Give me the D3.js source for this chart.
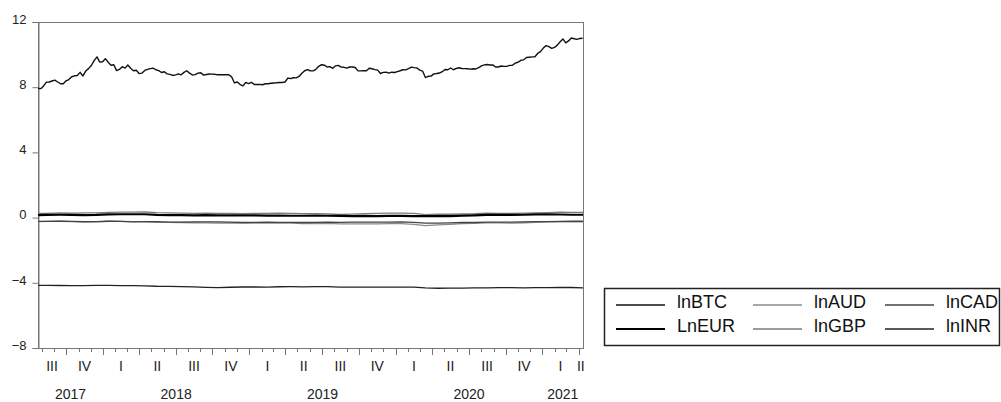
<!DOCTYPE html>
<html>
<head>
<meta charset="utf-8">
<script src="https://cdn.jsdelivr.net/npm/d3@7"></script>
<style>
  html, body { margin: 0; padding: 0; background: #fff; }
  svg { display: block; font-family: Arial, "Liberation Sans", sans-serif; }
</style>
</head>
<body>
<div id="chart"></div>
<script>
// weekly lnBTC, first observation 2017-07-23
const btcStart = '2017-07-23';
const lnBTC = [
  7.92, 7.91, 8.08, 8.31, 8.32, 8.38, 8.43, 8.32, 8.21, 8.21, 8.39, 8.47, 8.64, 8.70, 8.72, 8.91, 8.69, 8.99, 9.14, 9.33, 9.63, 9.86, 9.54, 9.56,
  9.75, 9.53, 9.35, 9.38, 9.02, 9.09, 9.26, 9.17, 9.36, 9.16, 9.01, 9.04, 8.83, 8.86, 9.03, 9.09, 9.14, 9.17, 9.07, 9.02, 8.90, 8.95, 8.82, 8.79, 8.72, 8.76,
  8.82, 8.76, 8.91, 9.01, 8.86, 8.75, 8.77, 8.86, 8.89, 8.74, 8.78, 8.81, 8.80, 8.79, 8.76, 8.77, 8.76, 8.77, 8.76, 8.63, 8.26, 8.32, 8.16, 8.08, 8.29, 8.22,
  8.30, 8.17, 8.17, 8.17, 8.15, 8.21, 8.21, 8.24, 8.26, 8.27, 8.29, 8.29, 8.32, 8.56, 8.53, 8.58, 8.57, 8.66, 8.85, 9.01, 9.08, 9.01, 9.00, 9.10, 9.28, 9.38,
  9.35, 9.24, 9.26, 9.16, 9.31, 9.34, 9.23, 9.22, 9.17, 9.24, 9.24, 9.21, 9.00, 9.00, 9.02, 9.01, 9.16, 9.13, 9.08, 9.05, 8.84, 8.91, 8.92, 8.86, 8.92, 8.90,
  8.96, 9.01, 9.07, 9.06, 9.14, 9.23, 9.20, 9.18, 9.05, 8.99, 8.59, 8.67, 8.68, 8.82, 8.84, 8.87, 8.95, 9.09, 9.07, 9.18, 9.07, 9.15, 9.19, 9.15, 9.14, 9.13,
  9.11, 9.13, 9.12, 9.20, 9.31, 9.37, 9.39, 9.36, 9.37, 9.24, 9.24, 9.30, 9.28, 9.28, 9.34, 9.35, 9.48, 9.53, 9.65, 9.68, 9.82, 9.84, 9.86, 9.87, 10.07, 10.18,
  10.40, 10.55, 10.49, 10.38, 10.44, 10.58, 10.79, 10.96, 10.72, 10.84, 11.02, 10.97, 10.93, 10.99, 11.00
];

// monthly exchange rates (log), first observation mid July 2017
const fxStart = '2017-07-15';
const lnEUR = [
  0.140, 0.166, 0.174, 0.166, 0.157, 0.166,
  0.199, 0.207, 0.207, 0.207, 0.166, 0.157, 0.157, 0.140, 0.157, 0.140, 0.131, 0.131,
  0.131, 0.122, 0.122, 0.113, 0.113, 0.122, 0.113, 0.104, 0.095, 0.104, 0.095, 0.104,
  0.104, 0.086, 0.095, 0.086, 0.086, 0.122, 0.140, 0.166, 0.166, 0.166, 0.174, 0.199,
  0.199, 0.191, 0.174, 0.174
];
const lnGBP = [
  0.262, 0.255, 0.293, 0.278, 0.285, 0.293,
  0.322, 0.336, 0.336, 0.344, 0.300, 0.285, 0.278, 0.255, 0.270, 0.262, 0.255, 0.239,
  0.255, 0.262, 0.278, 0.262, 0.247, 0.239, 0.223, 0.191, 0.215, 0.239, 0.255, 0.270,
  0.270, 0.262, 0.182, 0.215, 0.207, 0.223, 0.239, 0.278, 0.255, 0.262, 0.278, 0.293,
  0.307, 0.329, 0.322, 0.322
];
const lnAUD = [
  -0.248, -0.236, -0.223, -0.248, -0.274, -0.261,
  -0.223, -0.236, -0.248, -0.261, -0.288, -0.288, -0.301, -0.315, -0.329, -0.342, -0.329, -0.342,
  -0.342, -0.342, -0.342, -0.342, -0.371, -0.371, -0.357, -0.386, -0.386, -0.386, -0.386, -0.371,
  -0.371, -0.416, -0.494, -0.446, -0.416, -0.371, -0.357, -0.329, -0.329, -0.342, -0.315, -0.288,
  -0.261, -0.248, -0.261, -0.261
];
const lnCAD = [
  -0.236, -0.236, -0.211, -0.236, -0.248, -0.248,
  -0.223, -0.236, -0.261, -0.248, -0.248, -0.274, -0.274, -0.261, -0.261, -0.261, -0.274, -0.301,
  -0.288, -0.274, -0.288, -0.288, -0.301, -0.288, -0.274, -0.288, -0.281, -0.274, -0.281, -0.274,
  -0.268, -0.288, -0.342, -0.342, -0.329, -0.301, -0.301, -0.274, -0.274, -0.274, -0.268, -0.248,
  -0.242, -0.236, -0.223, -0.223
];
const lnINR = [
  -4.165, -4.157, -4.167, -4.174, -4.173, -4.162,
  -4.153, -4.168, -4.174, -4.184, -4.212, -4.217, -4.230, -4.246, -4.279, -4.299, -4.274, -4.258,
  -4.258, -4.265, -4.241, -4.240, -4.246, -4.240, -4.231, -4.263, -4.267, -4.263, -4.268, -4.265,
  -4.267, -4.270, -4.310, -4.333, -4.327, -4.327, -4.317, -4.312, -4.297, -4.299, -4.307, -4.299,
  -4.292, -4.288, -4.288, -4.311
];

const yTicks = [-8, -4, 0, 4, 8, 12];
const quarterNames = ['I', 'II', 'III', 'IV'];
const legendNames = ['lnBTC', 'lnAUD', 'lnCAD', 'LnEUR', 'lnGBP', 'lnINR'];
const xStart = '2017-07-23';
const xEnd = '2021-04-12';

const W = 1001, H = 402;
const plot = { left: 38, right: 583, top: 22, bottom: 348 };
const parse = d3.timeParse('%Y-%m-%d');

// line style per series
const styles = {
  lnBTC: { color: '#111', width: 1.4 },
  lnAUD: { color: '#8a8a8a', width: 1.3 },
  lnCAD: { color: '#444', width: 1.3 },
  LnEUR: { color: '#000', width: 2.2 },
  lnGBP: { color: '#7a7a7a', width: 1.3 },
  lnINR: { color: '#222', width: 1.3 }
};

const btcDates = lnBTC.map((v, i) => d3.timeWeek.offset(parse(btcStart), i));
const fxDates = lnEUR.map((v, i) => d3.timeMonth.offset(parse(fxStart), i));

const series = [
  { name: 'lnAUD', dates: fxDates, values: lnAUD },
  { name: 'lnCAD', dates: fxDates, values: lnCAD },
  { name: 'lnGBP', dates: fxDates, values: lnGBP },
  { name: 'LnEUR', dates: fxDates, values: lnEUR },
  { name: 'lnINR', dates: fxDates, values: lnINR },
  { name: 'lnBTC', dates: btcDates, values: lnBTC }
];

const x = d3.scaleTime()
  .domain([parse(xStart), parse(xEnd)])
  .range([plot.left, plot.right]);

const y = d3.scaleLinear()
  .domain([-8, 12])
  .range([plot.bottom, plot.top]);

const svg = d3.select('#chart')
  .append('svg')
  .attr('width', W)
  .attr('height', H);

svg.append('rect')
  .attr('width', W)
  .attr('height', H)
  .attr('fill', '#fff');

svg.append('defs').append('clipPath')
  .attr('id', 'plotClip')
  .append('rect')
  .attr('x', plot.left)
  .attr('y', plot.top)
  .attr('width', plot.right - plot.left)
  .attr('height', plot.bottom - plot.top);

// Frame
svg.append('rect')
  .attr('x', plot.left + 0.5)
  .attr('y', plot.top + 0.5)
  .attr('width', plot.right - plot.left)
  .attr('height', plot.bottom - plot.top)
  .attr('fill', 'none')
  .attr('stroke', '#777')
  .attr('stroke-width', 1);

// Y axis
const yAxis = svg.append('g')
  .attr('transform', `translate(${plot.left + 0.5},0)`)
  .call(d3.axisLeft(y).tickValues(yTicks).tickSize(6).tickPadding(6).tickFormat(d3.format('d')));
yAxis.select('.domain').attr('stroke', '#777');
yAxis.selectAll('.tick line').attr('stroke', '#777');
yAxis.selectAll('.tick text')
  .attr('fill', '#222')
  .attr('dy', '0.1em')
  .style('font-size', '13px')
  .style('font-family', 'Arial, "Liberation Sans", sans-serif');

// X axis: monthly ticks, quarter labels, year labels
const domain = x.domain();
const xAxis = svg.append('g');
xAxis.append('line')
  .attr('x1', plot.left).attr('x2', plot.right)
  .attr('y1', plot.bottom + 0.5).attr('y2', plot.bottom + 0.5)
  .attr('stroke', '#777');

xAxis.selectAll('line.tick')
  .data(d3.timeMonth.range(domain[0], domain[1]))
  .enter().append('line')
  .attr('class', 'tick')
  .attr('x1', d => Math.round(x(d)) + 0.5)
  .attr('x2', d => Math.round(x(d)) + 0.5)
  .attr('y1', plot.bottom)
  .attr('y2', d => plot.bottom + (d.getMonth() % 3 === 0 ? 7 : 4))
  .attr('stroke', '#777');

const quarters = d3.timeMonth.every(3).range(d3.timeMonth.every(3).floor(domain[0]), domain[1]);
xAxis.selectAll('text.quarter')
  .data(quarters)
  .enter().append('text')
  .attr('class', 'quarter')
  .attr('x', d => {
    const a = Math.max(+d, +domain[0]);
    const b = Math.min(+d3.timeMonth.offset(d, 3), +domain[1]);
    return (x(new Date(a)) + x(new Date(b))) / 2;
  })
  .attr('y', 371)
  .attr('text-anchor', 'middle')
  .attr('fill', '#222')
  .style('font-size', '14px')
  .text(d => quarterNames[Math.floor(d.getMonth() / 3)]);

const years = d3.timeYear.range(d3.timeYear.floor(domain[0]), domain[1]);
xAxis.selectAll('text.year')
  .data(years)
  .enter().append('text')
  .attr('class', 'year')
  .attr('x', d => {
    const a = Math.max(+d, +domain[0]);
    const b = Math.min(+d3.timeYear.offset(d, 1), +domain[1]);
    return (x(new Date(a)) + x(new Date(b))) / 2;
  })
  .attr('y', 399)
  .attr('text-anchor', 'middle')
  .attr('fill', '#222')
  .style('font-size', '14px')
  .text(d => d.getFullYear());

// Series lines
const line = d3.line()
  .x(d => x(d[0]))
  .y(d => y(d[1]));

svg.append('g')
  .attr('clip-path', 'url(#plotClip)')
  .selectAll('path')
  .data(series)
  .enter().append('path')
  .attr('fill', 'none')
  .attr('stroke', d => styles[d.name].color)
  .attr('stroke-width', d => styles[d.name].width)
  .attr('stroke-linejoin', 'round')
  .attr('d', d => line(d.values.map((v, i) => [d.dates[i], v])));

// Legend
const legend = svg.append('g');
legend.append('rect')
  .attr('x', 604.5)
  .attr('y', 288.5)
  .attr('width', 395)
  .attr('height', 57)
  .attr('fill', '#fff')
  .attr('stroke', '#222')
  .attr('stroke-width', 1.5);

const colX = [616, 753, 885];
const rowY = [305, 329];
const items = legend.selectAll('g.item')
  .data(legendNames)
  .enter().append('g')
  .attr('class', 'item')
  .attr('transform', (d, i) => `translate(${colX[i % 3]},${rowY[Math.floor(i / 3)]})`);

items.append('line')
  .attr('x1', 0).attr('x2', 49)
  .attr('y1', 0).attr('y2', 0)
  .attr('stroke', d => styles[d].color)
  .attr('stroke-width', d => Math.min(styles[d].width, 1.8));

items.append('text')
  .attr('x', 61)
  .attr('y', 3)
  .attr('fill', '#111')
  .style('font-size', '18px')
  .text(d => d);
</script>
</body>
</html>
